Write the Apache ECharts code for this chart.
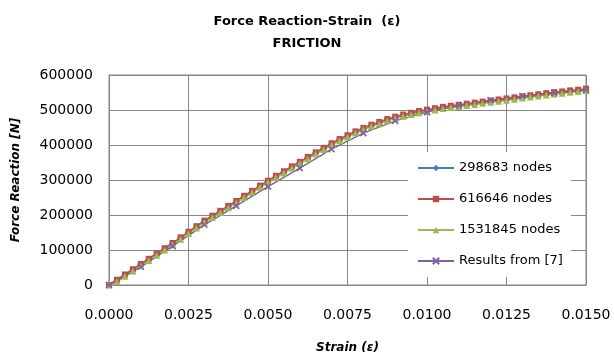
<!DOCTYPE html>
<html><head><meta charset="utf-8">
<script src="https://cdn.jsdelivr.net/npm/echarts@6/dist/echarts.min.js"></script>
<style>html,body{margin:0;padding:0;background:#fff}#c{width:614px;height:360px}</style>
</head><body><div id="c"></div>
<script>
var strain = [0,0.00025,0.0005,0.00075,0.001,0.00125,0.0015,0.00175,0.002,0.00225,
0.0025,0.00275,0.003,0.00325,0.0035,0.00375,0.004,0.00425,0.0045,0.00475,
0.005,0.00525,0.0055,0.00575,0.006,0.00625,0.0065,0.00675,0.007,0.00725,
0.0075,0.00775,0.008,0.00825,0.0085,0.00875,0.009,0.00925,0.0095,0.00975,
0.01,0.01025,0.0105,0.01075,0.011,0.01125,0.0115,0.01175,0.012,0.01225,
0.0125,0.01275,0.013,0.01325,0.0135,0.01375,0.014,0.01425,0.0145,0.01475,0.015];
var nodes298683 = [0,13000,28000,43000,58000,73000,88000,103000,118000,134000,
150000,166000,182000,196000,210000,224000,238000,253000,267000,282000,
296000,310000,323000,337000,350000,364000,377000,390000,403000,415000,
426000,437000,447000,456000,464000,472000,479000,485000,490000,495000,
499000,503000,507000,510000,513000,516000,519000,522000,525000,528000,
531000,534000,537000,540000,543000,546000,549000,551000,554000,556000,559000];
var nodes616646 = [0,15000,30000,45000,60000,75000,90000,105000,120000,136000,
152000,168000,184000,198000,212000,226000,240000,255000,269000,284000,
298000,312000,325000,339000,352000,366000,379000,392000,405000,417000,
428000,439000,449000,458000,466000,474000,481000,487000,492000,497000,
501000,505000,509000,512000,515000,518000,521000,524000,527000,530000,
533000,536000,539000,542000,545000,548000,551000,553000,556000,558000,561000];
var nodes1531845 = [0,10000,25000,40000,55000,70000,85000,100000,115000,131000,
147000,163000,179000,193000,207000,221000,235000,250000,264000,279000,
293000,307000,320000,334000,347000,361000,374000,387000,400000,412000,
423000,434000,444000,453000,461000,469000,476000,482000,487000,492000,
496000,500000,504000,507000,510000,513000,516000,519000,522000,525000,
528000,531000,534000,537000,540000,543000,546000,548000,551000,553000,556000];
var strainRef = [0,0.001,0.002,0.003,0.004,0.005,0.006,0.007,0.008,0.009,0.010,0.011,0.012,0.013,0.014,0.015];
var resultsRef = [0,52000,111000,172000,226000,281000,334000,388000,434000,469000,494000,513000,528000,540000,549000,557000];
var seriesNames = ['298683 nodes','616646 nodes','1531845 nodes','Results from [7]'];

function pairs(xs, ys){ return xs.map(function(x,i){ return [x, ys[i]]; }); }

var FONT = 'DejaVu Sans';
var grid = '#878787';
var chart = echarts.init(document.getElementById('c'), null, {renderer:'canvas'});
chart.setOption({
  animation:false,
  backgroundColor:'#fff',
  title:{
    text:'Force Reaction-Strain  (ε)\nFRICTION',
    left:'center', top:6,
    textStyle:{fontFamily:FONT, fontSize:13, fontWeight:'bold', color:'#000', lineHeight:22}
  },
  grid:{left:109, right:28, top:75, bottom:75, show:true, borderColor:grid, borderWidth:1, backgroundColor:'transparent'},
  legend:{
    orient:'vertical', left:408, top:152,
    backgroundColor:'#fff',
    padding:[9,8,9,9],
    itemWidth:36, itemHeight:8, itemGap:17,
    textStyle:{fontFamily:FONT, fontSize:13, color:'#000', lineHeight:14},
    data:seriesNames
  },
  xAxis:{
    type:'value', min:0, max:0.015, interval:0.0025,
    name:'Strain (ε)', nameLocation:'middle', nameGap:57,
    nameTextStyle:{fontFamily:FONT, fontSize:12, fontWeight:'bold', fontStyle:'italic', color:'#000'},
    axisLine:{lineStyle:{color:grid}},
    axisTick:{show:true, inside:true, length:5, lineStyle:{color:grid}},
    axisLabel:{fontFamily:FONT, fontSize:14, color:'#000', margin:23, formatter:function(v){return v.toFixed(4);}},
    splitLine:{show:true, lineStyle:{color:grid, width:1}}
  },
  yAxis:{
    type:'value', min:0, max:600000, interval:100000,
    name:'Force Reaction [N]', nameLocation:'middle', nameGap:87,
    nameTextStyle:{fontFamily:FONT, fontSize:12, fontWeight:'bold', fontStyle:'italic', color:'#000'},
    axisLine:{show:true, lineStyle:{color:grid}},
    axisTick:{show:false},
    axisLabel:{fontFamily:FONT, fontSize:14, color:'#000', margin:16, formatter:function(v){return String(v);}},
    splitLine:{show:true, lineStyle:{color:grid, width:1}}
  },
  series:[
    {name:seriesNames[0], type:'line', data:pairs(strain,nodes298683), symbol:'diamond', symbolSize:7,
     lineStyle:{color:'#4A7EBB', width:1.5}, itemStyle:{color:'#4A7EBB'}},
    {name:seriesNames[1], type:'line', data:pairs(strain,nodes616646), symbol:'rect', symbolSize:6,
     lineStyle:{color:'#BE4B48', width:1.5}, itemStyle:{color:'#BE4B48'}},
    {name:seriesNames[2], type:'line', data:pairs(strain,nodes1531845), symbol:'triangle', symbolSize:7,
     lineStyle:{color:'#98B954', width:1.5}, itemStyle:{color:'#98B954'}},
    {name:seriesNames[3], type:'line', data:pairs(strainRef,resultsRef), symbol:'path://M0,0L10,10M10,0L0,10', symbolSize:6,
     lineStyle:{color:'#7D60A0', width:1.5}, itemStyle:{color:'#7D60A0', borderColor:'#7D60A0', borderWidth:1.5}}
  ]
});
</script></body></html>
